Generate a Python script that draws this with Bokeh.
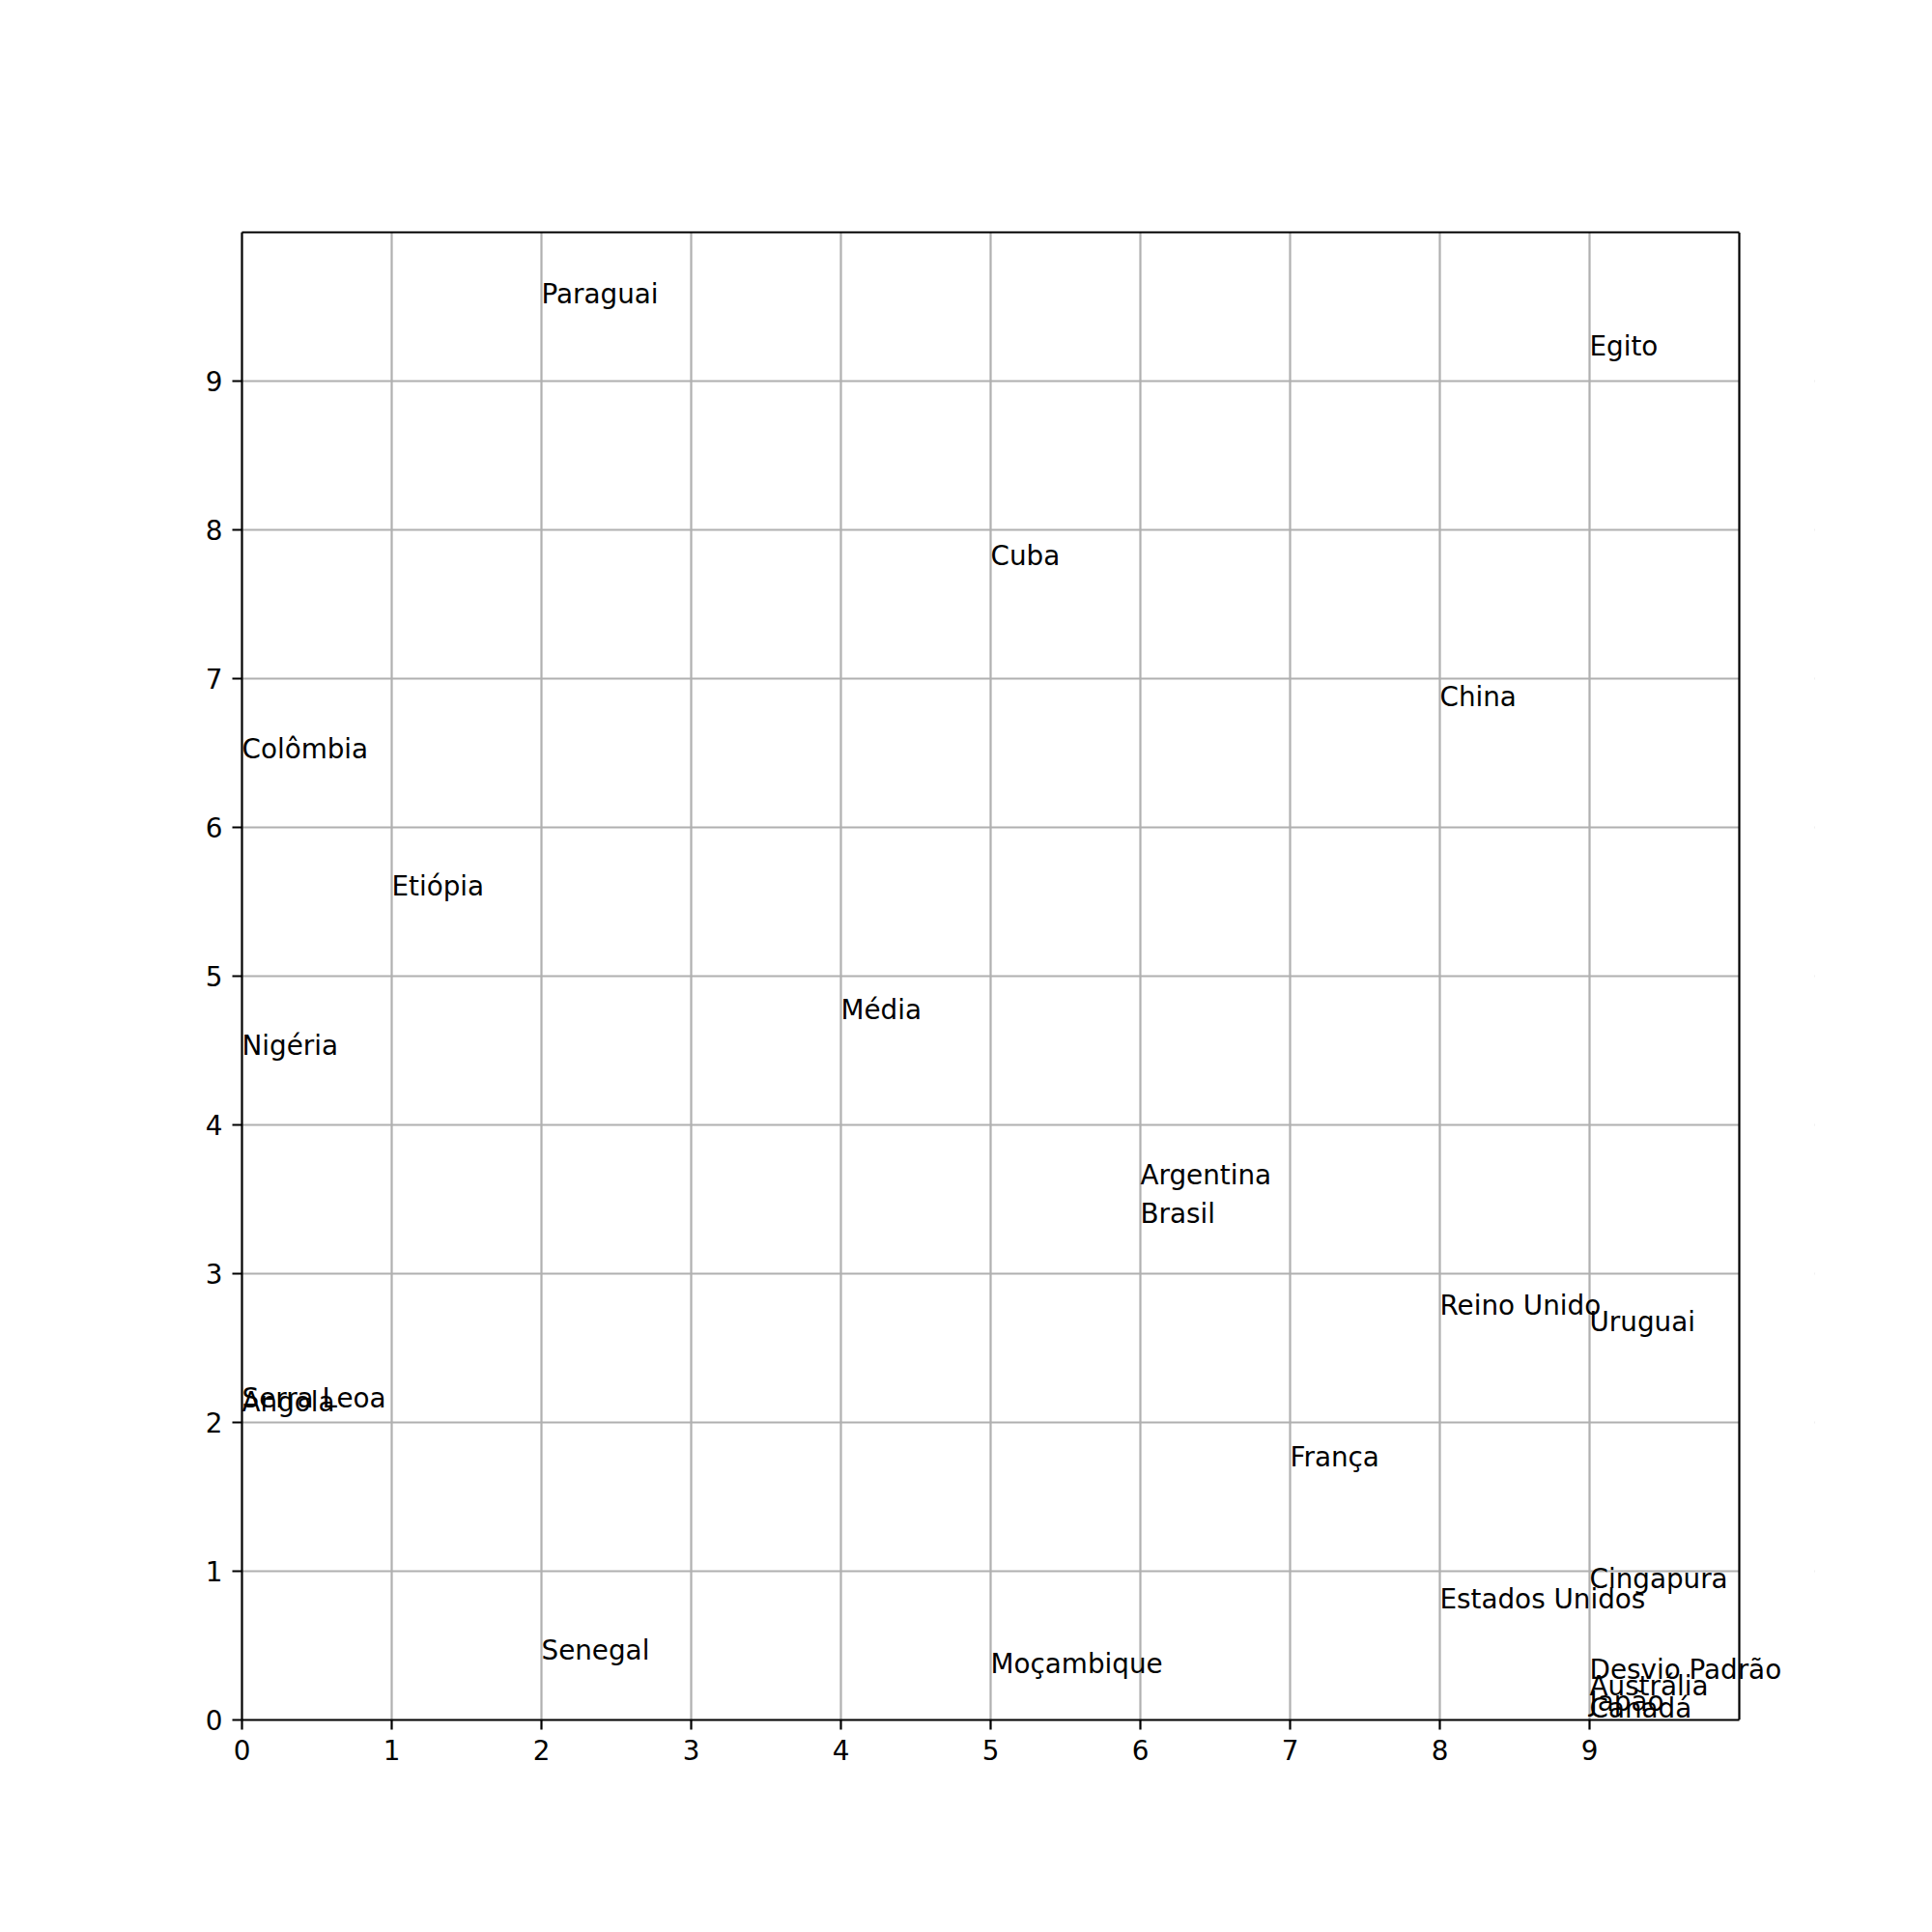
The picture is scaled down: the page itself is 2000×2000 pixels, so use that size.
from bokeh.plotting import figure
from bokeh.models import Range1d, FixedTicker, Label, BoxAnnotation, Span, LinearAxis
from bokeh.embed import file_html
from bokeh.resources import INLINE

names = ["Paraguai", "Egito", "Cuba", "China", "Colômbia", "Etiópia", "Média",
         "Nigéria", "Argentina", "Brasil", "Reino Unido", "Uruguai", "Serra Leoa",
         "Angola", "França", "Cingapura", "Estados Unidos", "Senegal", "Moçambique",
         "Desvio Padrão", "Austrália", "Japão", "Canadá"]
xs = [2, 9, 5, 8, 0, 1, 4, 0, 6, 6, 8, 9, 0, 0, 7, 9, 8, 2, 5, 9, 9, 9, 9]
ys = [9.52, 9.17, 7.76, 6.81, 6.46, 5.54, 4.71, 4.47, 3.60, 3.34, 2.72, 2.61,
      2.10, 2.07, 1.70, 0.88, 0.75, 0.40, 0.31, 0.27, 0.16, 0.06, 0.01]
ticks = [0, 1, 2, 3, 4, 5, 6, 7, 8, 9]
XMAX, YMAX = 10, 10

# frame extends a bit to the right of the visible box so labels are not clipped
p = figure(width=2000, height=2000, output_backend="svg", toolbar_location=None,
           x_range=Range1d(0, XMAX + 78 / 155), y_range=Range1d(0, YMAX),
           min_border_left=250, min_border_right=122, min_border_top=240,
           min_border_bottom=220)
p.outline_line_color = None
p.background_fill_color = "white"
p.border_fill_color = "white"

for ax in (p.xaxis[0], p.yaxis[0]):
    ax.ticker = FixedTicker(ticks=ticks)
    ax.axis_line_color = "black"
    ax.axis_line_width = 2.2
    ax.major_tick_out = 10
    ax.major_tick_in = 0
    ax.major_tick_line_width = 2.2
    ax.minor_tick_line_color = None
    ax.major_label_text_font = "DejaVu Sans"
    ax.major_label_text_font_size = "27.8px"
    ax.major_label_text_color = "black"
    ax.major_label_standoff = 10
p.xaxis[0].bounds = (0, XMAX)

top = LinearAxis(ticker=FixedTicker(ticks=[]), bounds=(0, XMAX),
                 axis_line_color="black", axis_line_width=2.2,
                 major_tick_line_color=None, minor_tick_line_color=None,
                 major_label_text_font_size="0px")
p.add_layout(top, "above")

for g in (p.xgrid[0], p.ygrid[0]):
    g.ticker = FixedTicker(ticks=ticks)
    g.grid_line_color = "#b0b0b0"
    g.grid_line_width = 2.2

# blank out the grid beyond the right edge of the box
p.add_layout(BoxAnnotation(left=XMAX, fill_color="white", fill_alpha=1.0,
                           line_color=None, level="underlay"))
p.add_layout(Span(location=XMAX, dimension="height", line_color="black",
                  line_width=2.2, level="underlay"))

for nm, xv, yv in zip(names, xs, ys):
    p.add_layout(Label(x=xv, y=yv, text=nm, text_font="DejaVu Sans",
                       text_font_size="27.8px", text_align="left",
                       text_baseline="alphabetic", text_color="black",
                       y_offset=10))

open("out.html", "w").write(file_html(p, INLINE))
